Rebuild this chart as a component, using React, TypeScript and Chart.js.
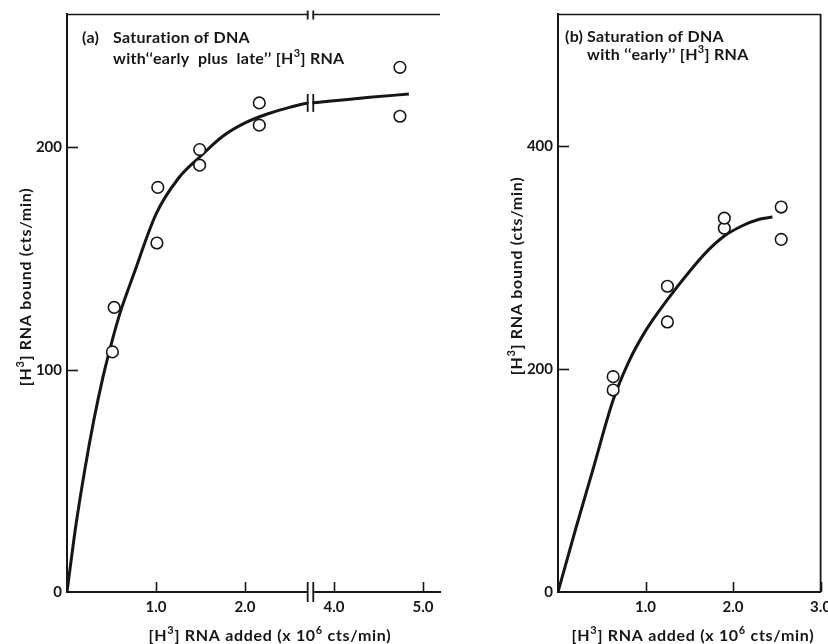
import React, { useEffect, useRef } from 'react';
import { Chart, registerables } from 'chart.js';

Chart.register(...registerables);

const FONT = 'Lato, "DejaVu Sans", sans-serif';
const INK = '#161616';

// ---------------- Panel (a): early plus late ----------------
const A_BREAK = 2.735; // x (real units) where the axis is broken
const A_CUT = 1.0; // real x units removed by the break
const aCircleX = [0.51, 0.53, 1.01, 1.02, 1.49, 1.49, 2.16, 2.16, 4.74, 4.74];
const aCircleY = [108, 128, 157, 182, 192, 199, 210, 220, 214, 236];
const aCurveX = [0, 0.1, 0.2, 0.3, 0.4, 0.5, 0.6, 0.75, 1.0, 1.25, 1.5, 1.75, 2.0, 2.25, 2.5, 2.735, 3.735, 4.0, 4.4, 4.84];
const aCurveY = [0, 30, 55, 77, 96, 112, 126, 143, 170, 186, 196, 205, 211, 215, 218, 220, 220, 221, 222.5, 224];
const aXTicks = [1, 2, 4, 5];
const aXTickLabels = ['1.0', '2.0', '4.0', '5.0'];
const aYTicks = [0, 100, 200];
const aXMax = 5.19;
const aYMax = 260;

// ---------------- Panel (b): early ----------------
const bCircleX = [0.63, 0.63, 1.25, 1.25, 1.9, 1.9, 2.55, 2.55];
const bCircleY = [181, 193, 242, 274, 326, 335, 316, 345];
const bCurveX = [0, 0.2, 0.4, 0.63, 0.8, 1.0, 1.25, 1.5, 1.7, 1.9, 2.1, 2.3, 2.45];
const bCurveY = [0, 56, 110, 172, 205, 234, 262, 287, 305, 319, 328, 334, 336];
const bXTicks = [1, 2, 3];
const bXTickLabels = ['1.0', '2.0', '3.0'];
const bYTicks = [0, 200, 400];
const bXMax = 3;
const bYMax = 518;

// ---------------- Texts ----------------
type Seg = [string, boolean]; // [text, superscript]
const aTag = '(a)';
const aTitle1 = 'Saturation of DNA';
const aTitle2: Seg[] = [['with\u2018\u2018early  plus  late\u2019\u2019 [H', false], ['3', true], ['] RNA', false]];
const bTag = '(b)';
const bTitle1 = 'Saturation of DNA';
const bTitle2: Seg[] = [['with \u2018\u2018early\u2019\u2019 [H', false], ['3', true], ['] RNA', false]];
const xTitle: Seg[] = [['[H', false], ['3', true], ['] RNA added (x 10', false], ['6', true], [' cts/min)', false]];
const yTitle: Seg[] = [['[H', false], ['3', true], ['] RNA bound (cts/min)', false]];

const aToVirtual = (x: number) => (x > A_BREAK + 0.5 ? x - A_CUT : x);
const identity = (x: number) => x;

function setFont(ctx: CanvasRenderingContext2D, size: number, spacing: number) {
  ctx.font = `bold ${size}px ${FONT}`;
  (ctx as any).letterSpacing = `${spacing}px`;
}

function richWidth(ctx: CanvasRenderingContext2D, segs: Seg[], size: number, spacing: number) {
  let w = 0;
  for (const [t, sup] of segs) {
    setFont(ctx, sup ? Math.round(size * 0.68) : size, spacing);
    w += ctx.measureText(t).width;
  }
  return w;
}

function drawRich(ctx: CanvasRenderingContext2D, segs: Seg[], x: number, y: number, size: number, center: boolean, spacing: number) {
  ctx.textAlign = 'left';
  ctx.textBaseline = 'alphabetic';
  let cx = center ? x - richWidth(ctx, segs, size, spacing) / 2 : x;
  for (const [t, sup] of segs) {
    setFont(ctx, sup ? Math.round(size * 0.68) : size, spacing);
    ctx.fillText(t, cx, sup ? y - size * 0.42 : y);
    cx += ctx.measureText(t).width;
  }
  (ctx as any).letterSpacing = '0px';
}

type Spec = {
  id: string;
  offsetX: number;
  width: number;
  yAxisWidth: number;
  padRight: number;
  mapX: (x: number) => number;
  circleX: number[];
  circleY: number[];
  curveX: number[];
  curveY: number[];
  xTicks: number[];
  xTickLabels: string[];
  yTicks: number[];
  xMax: number;
  yMax: number;
  rightBorder: boolean;
  hasBreak: boolean;
  tag: string;
  tagX: number;
  title1: string;
  title2: Seg[];
  titleX: number;
  title1Y: number;
  title2Y: number;
  xTitleX: number;
  yTitleX: number;
  yTitleY: number;
};

const specA: Spec = {
  id: 'a', offsetX: 0, width: 480, yAxisWidth: 67, padRight: 40, mapX: aToVirtual,
  circleX: aCircleX, circleY: aCircleY, curveX: aCurveX, curveY: aCurveY,
  xTicks: aXTicks, xTickLabels: aXTickLabels, yTicks: aYTicks, xMax: aToVirtual(aXMax), yMax: aYMax,
  rightBorder: false, hasBreak: true,
  tag: aTag, tagX: 82, title1: aTitle1, title2: aTitle2, titleX: 113, title1Y: 43, title2Y: 64,
  xTitleX: 270, yTitleX: 31, yTitleY: 287,
};

const specB: Spec = {
  id: 'b', offsetX: 480, width: 348, yAxisWidth: 78, padRight: 4, mapX: identity,
  circleX: bCircleX, circleY: bCircleY, curveX: bCurveX, curveY: bCurveY,
  xTicks: bXTicks, xTickLabels: bXTickLabels, yTicks: bYTicks, xMax: bXMax, yMax: bYMax,
  rightBorder: true, hasBreak: false,
  tag: bTag, tagX: 565, title1: bTitle1, title2: bTitle2, titleX: 587, title1Y: 42, title2Y: 60,
  xTitleX: 693, yTitleX: 522, yTitleY: 276,
};

function decorPlugin(p: Spec) {
  return {
    id: 'decor-' + p.id,
    afterDraw(chart: any) {
      const ctx: CanvasRenderingContext2D = chart.ctx;
      const { left, right, top, bottom } = chart.chartArea;
      const xs = chart.scales.x;
      const ys = chart.scales.y;
      const o = p.offsetX;
      ctx.save();
      ctx.strokeStyle = INK;
      ctx.fillStyle = INK;
      ctx.lineCap = 'butt';

      // inward tick marks
      ctx.lineWidth = 1.6;
      for (const v of p.xTicks) {
        const px = Math.round(xs.getPixelForValue(p.mapX(v))) + 0.5;
        ctx.beginPath();
        ctx.moveTo(px, bottom);
        ctx.lineTo(px, bottom - 10);
        ctx.stroke();
      }
      for (const v of p.yTicks) {
        if (v === 0) continue;
        const py = Math.round(ys.getPixelForValue(v)) + 0.5;
        ctx.beginPath();
        ctx.moveTo(left, py);
        ctx.lineTo(left + 11, py);
        ctx.stroke();
      }

      // frame (top / right)
      ctx.lineWidth = 1.3;
      ctx.beginPath();
      ctx.moveTo(left, top + 0.5);
      ctx.lineTo(right, top + 0.5);
      ctx.stroke();
      if (p.rightBorder) {
        ctx.lineWidth = 1.8;
        ctx.beginPath();
        ctx.moveTo(right, top);
        ctx.lineTo(right, bottom);
        ctx.stroke();
      }

      // axis break marks
      if (p.hasBreak) {
        const xb = xs.getPixelForValue(A_BREAK);
        const cy = ys.getPixelForValue(220);
        const marks = (yc: number, hUp: number, hDown: number, gapH: number) => {
          ctx.fillStyle = '#ffffff';
          ctx.fillRect(xb - 2, yc - gapH, 4, gapH * 2);
          ctx.fillStyle = INK;
          ctx.lineWidth = 1.8;
          for (const dx of [-2.8, 2.8]) {
            ctx.beginPath();
            ctx.moveTo(xb + dx, yc - hUp);
            ctx.lineTo(xb + dx, yc + hDown);
            ctx.stroke();
          }
        };
        marks(top + 0.5, 4, 5, 2);
        marks(cy, 9, 9, 3);
        marks(bottom, 10, 10, 2);
      }

      // titles inside the plot
      ctx.fillStyle = INK;
      ctx.textAlign = 'left';
      ctx.textBaseline = 'alphabetic';
      setFont(ctx, 16, 0.3);
      ctx.fillText(p.tag, p.tagX - o, p.title1Y);
      ctx.fillText(p.title1, p.titleX - o, p.title1Y);
      drawRich(ctx, p.title2, p.titleX - o, p.title2Y, 16, false, 0.3);

      // axis titles
      drawRich(ctx, xTitle, p.xTitleX - o, 641, 16, true, 0.7);
      ctx.save();
      ctx.translate(p.yTitleX - o, p.yTitleY);
      ctx.rotate(-Math.PI / 2);
      drawRich(ctx, yTitle, 0, 0, 16, true, 0.7);
      ctx.restore();

      ctx.restore();
    },
  };
}

function buildConfig(p: Spec): any {
  const tickFont = { family: FONT, size: 15, weight: 'bold' as const };
  return {
    type: 'scatter',
    data: {
      datasets: [
        {
          label: 'fit',
          data: p.curveX.map((x, i) => ({ x: p.mapX(x), y: p.curveY[i] })),
          showLine: true,
          borderColor: INK,
          borderWidth: 3,
          pointRadius: 0,
          cubicInterpolationMode: 'monotone',
          fill: false,
          order: 1,
        },
        {
          label: 'measured',
          data: p.circleX.map((x, i) => ({ x: p.mapX(x), y: p.circleY[i] })),
          showLine: false,
          pointRadius: 5.8,
          pointBorderWidth: 1.6,
          pointBackgroundColor: '#ffffff',
          pointBorderColor: INK,
          order: 0,
        },
      ],
    },
    options: {
      responsive: false,
      animation: false,
      events: [],
      layout: { padding: { left: 0, top: 14, right: p.padRight, bottom: 0 } },
      plugins: { legend: { display: false }, tooltip: { enabled: false }, title: { display: false } },
      scales: {
        x: {
          type: 'linear',
          min: 0,
          max: p.xMax,
          grid: { display: false, drawTicks: false },
          border: { display: true, color: INK, width: 2 },
          afterBuildTicks: (s: any) => {
            s.ticks = p.xTicks.map((v) => ({ value: p.mapX(v) }));
          },
          afterFit: (s: any) => {
            s.height = 52;
            s.paddingLeft = 0;
            s.paddingRight = 0;
          },
          ticks: {
            autoSkip: false,
            maxRotation: 0,
            padding: 6,
            color: INK,
            font: tickFont,
            callback: (_v: any, i: number) => p.xTickLabels[i],
          },
        },
        y: {
          type: 'linear',
          min: 0,
          max: p.yMax,
          grid: { display: false, drawTicks: false },
          border: { display: true, color: INK, width: 2 },
          afterBuildTicks: (s: any) => {
            s.ticks = p.yTicks.map((v) => ({ value: v }));
          },
          afterFit: (s: any) => {
            s.width = p.yAxisWidth;
            s.paddingTop = 0;
            s.paddingBottom = 0;
          },
          ticks: {
            autoSkip: false,
            padding: 5,
            color: INK,
            font: tickFont,
            callback: (v: any) => String(v),
          },
        },
      },
    },
    plugins: [decorPlugin(p)],
  };
}

function Panel({ spec }: { spec: Spec }) {
  const ref = useRef<HTMLCanvasElement | null>(null);
  useEffect(() => {
    if (!ref.current) return;
    const chart = new Chart(ref.current, buildConfig(spec));
    return () => chart.destroy();
  }, [spec]);
  return (
    <canvas
      ref={ref}
      width={spec.width}
      height={644}
      style={{ position: 'absolute', left: spec.offsetX, top: 0, width: spec.width, height: 644 }}
    />
  );
}

export default function App() {
  return (
    <div style={{ position: 'absolute', left: 0, top: 0, width: 828, height: 644, background: '#ffffff', overflow: 'hidden' }}>
      <Panel spec={specA} />
      <Panel spec={specB} />
    </div>
  );
}
